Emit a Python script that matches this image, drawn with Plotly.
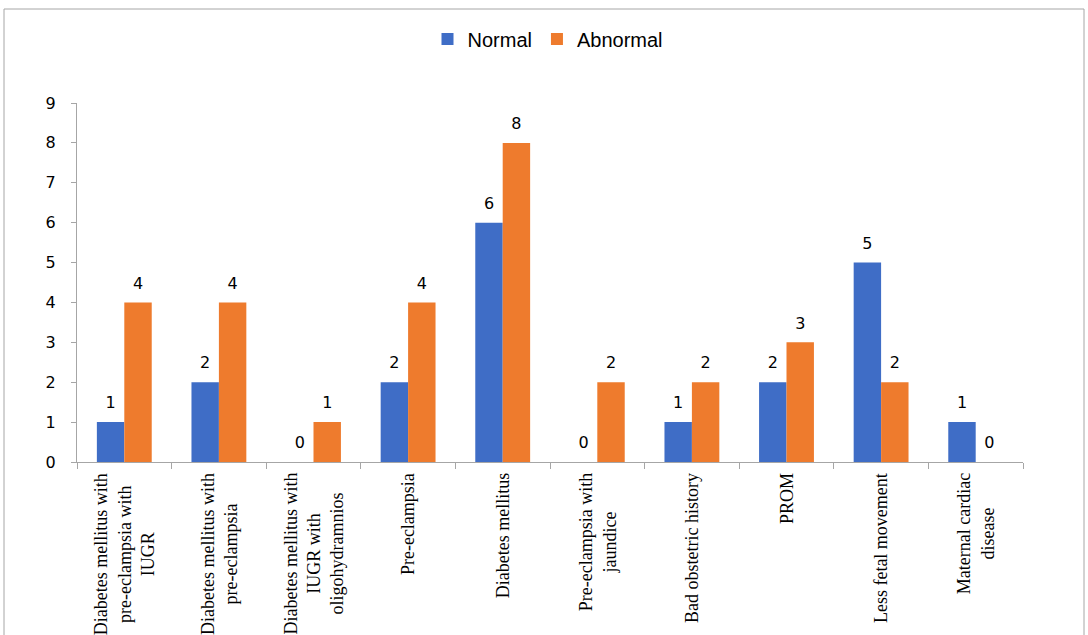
import plotly.graph_objects as go

categories = [
    "Diabetes mellitus with<br>pre-eclampsia with<br>IUGR",
    "Diabetes mellitus with<br>pre-eclampsia",
    "Diabetes mellitus with<br>IUGR with<br>oligohydramnios",
    "Pre-eclampsia",
    "Diabetes mellitus",
    "Pre-eclampsia with<br>jaundice",
    "Bad obstetric history",
    "PROM",
    "Less fetal movement",
    "Maternal cardiac<br>disease",
]
normal = [1, 2, 0, 2, 6, 0, 1, 2, 5, 1]
abnormal = [4, 4, 1, 4, 8, 2, 2, 3, 2, 0]
y_ticks = list(range(0, 10))

L, R, T, B = 77, 65, 103, 173
W, H = 1088, 635
pw, ph = W - L - R, H - T - B
GAP = 0.42

label_font = dict(family="DejaVu Sans, Verdana, sans-serif", size=16, color="#000000")

fig = go.Figure()
for name, vals, col in [("Normal", normal, "#3F6DC6"), ("Abnormal", abnormal, "#EE7B2D")]:
    fig.add_trace(go.Bar(
        name=name, x=categories, y=vals,
        marker=dict(color=col, line=dict(width=0)),
    ))
for name, vals in [("Normal", normal), ("Abnormal", abnormal)]:
    fig.add_trace(go.Scatter(
        name=name + " labels", x=categories, y=vals, mode="markers+text",
        marker=dict(size=14, opacity=0), text=[str(v) for v in vals],
        textposition="top center", textfont=label_font, showlegend=False,
        cliponaxis=False, hoverinfo="skip",
    ))

for c in categories:
    fig.add_annotation(
        x=c, xref="x", y=0, yref="paper", yanchor="top", xanchor="center",
        yshift=-9, text=c, textangle=-90, align="center", showarrow=False,
        font=dict(family="Liberation Serif, Times New Roman, serif", size=18, color="#000000"),
    )

# outer chart border
fig.add_shape(
    type="rect", xref="paper", yref="paper",
    x0=(4 - L) / pw, x1=(1084 - L) / pw,
    y0=1 - (H + 10 - T) / ph, y1=1 - (9 - T) / ph,
    line=dict(color="#A6A6A6", width=1), fillcolor="rgba(0,0,0,0)", layer="below",
)

fig.update_layout(
    width=W, height=H,
    margin=dict(l=L, r=R, t=T, b=B),
    paper_bgcolor="white", plot_bgcolor="white",
    barmode="group", bargap=GAP, bargroupgap=0,
    scattermode="group", scattergap=GAP,
    legend=dict(
        orientation="h", x=(548 - L) / pw, xanchor="center",
        y=1 - (39 - T) / ph, yanchor="middle",
        font=dict(family="Liberation Sans Narrow, Arial Narrow, Liberation Sans, sans-serif", size=20, color="#000000"),
        itemwidth=30, tracegroupgap=0,
    ),
    showlegend=True,
    xaxis=dict(
        type="category", showticklabels=False, showgrid=False,
        showline=True, linecolor="#A6A6A6", linewidth=1,
        ticks="outside", tickson="boundaries", ticklen=6, tickcolor="#A6A6A6",
        zeroline=False,
    ),
    yaxis=dict(
        range=[0, 9], tickvals=y_ticks, showgrid=False, zeroline=False,
        showline=True, linecolor="#A6A6A6", linewidth=1,
        ticks="outside", ticklen=5, tickcolor="#A6A6A6", ticklabelstandoff=12,
        tickfont=dict(family="DejaVu Sans, Verdana, sans-serif", size=16, color="#000000"),
    ),
)

fig.write_html("out.html")
